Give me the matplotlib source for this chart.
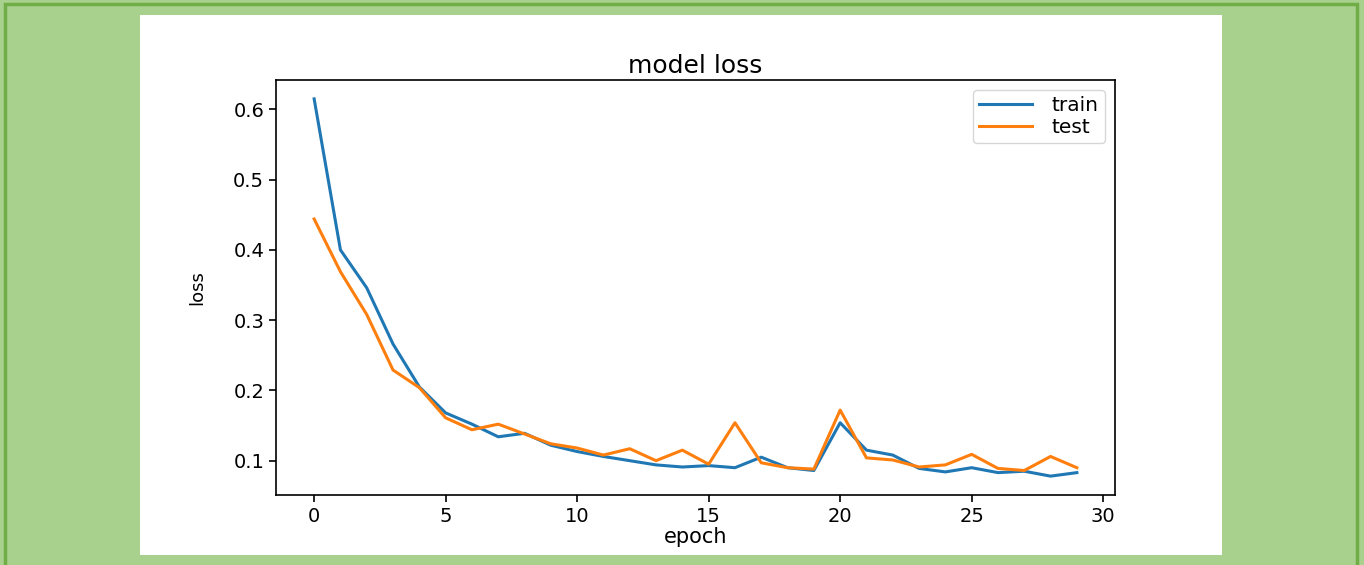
import matplotlib
matplotlib.use("Agg")
import matplotlib.pyplot as plt
from matplotlib.patches import Rectangle

# loss per epoch
epochs = list(range(30))
train_loss = [0.615, 0.400, 0.346, 0.266, 0.205, 0.168, 0.152, 0.134, 0.139, 0.122,
              0.113, 0.106, 0.100, 0.094, 0.091, 0.093, 0.090, 0.105, 0.090, 0.086,
              0.154, 0.115, 0.108, 0.089, 0.084, 0.090, 0.083, 0.085, 0.078, 0.083]
test_loss = [0.444, 0.369, 0.308, 0.229, 0.204, 0.161, 0.144, 0.152, 0.138, 0.124,
             0.118, 0.108, 0.117, 0.100, 0.115, 0.095, 0.154, 0.097, 0.090, 0.088,
             0.172, 0.104, 0.101, 0.091, 0.094, 0.109, 0.089, 0.086, 0.106, 0.090]

W, H = 1364, 565
fig = plt.figure(figsize=(W / 100, H / 100), dpi=100)
fig.patch.set_facecolor("#a9d18e")

# dark green frame and white panel (pixel coords -> figure fraction)
def px_rect(x0, y0, x1, y1, **kw):
    return Rectangle((x0 / W, 1 - y1 / H), (x1 - x0) / W, (y1 - y0) / H,
                     transform=fig.transFigure, zorder=-10, **kw)

fig.patches.append(px_rect(5, 4, 1357, 570, facecolor="none",
                           edgecolor="#70ad47", linewidth=2.5))
fig.patches.append(px_rect(140, 15, 1222, 555, facecolor="white",
                           edgecolor="none"))

ax = fig.add_axes([276 / W, 1 - 495 / H, (1115 - 276) / W, (495 - 80) / H])
ax.plot(epochs, train_loss, color="#1f77b4", lw=2.2, label="train")
ax.plot(epochs, test_loss, color="#ff7f0e", lw=2.2, label="test")

ax.set_title("model loss", fontsize=18, pad=5)
ax.set_xlabel("epoch", fontsize=15, labelpad=1)
ax.set_ylabel("loss", fontsize=13)
ax.yaxis.set_label_coords(-0.083, 0.5)
ax.set_xticks([0, 5, 10, 15, 20, 25, 30])
ax.set_yticks([0.1, 0.2, 0.3, 0.4, 0.5, 0.6])
ax.tick_params(labelsize=14, length=5, width=1.2)
for s in ax.spines.values():
    s.set_linewidth(1.2)
ax.legend(loc="upper right", fontsize=14.5, handlelength=2.6,
          labelspacing=0.15, handletextpad=1.0, borderpad=0.3)

fig.savefig("out.png", dpi=100, facecolor=fig.get_facecolor())
